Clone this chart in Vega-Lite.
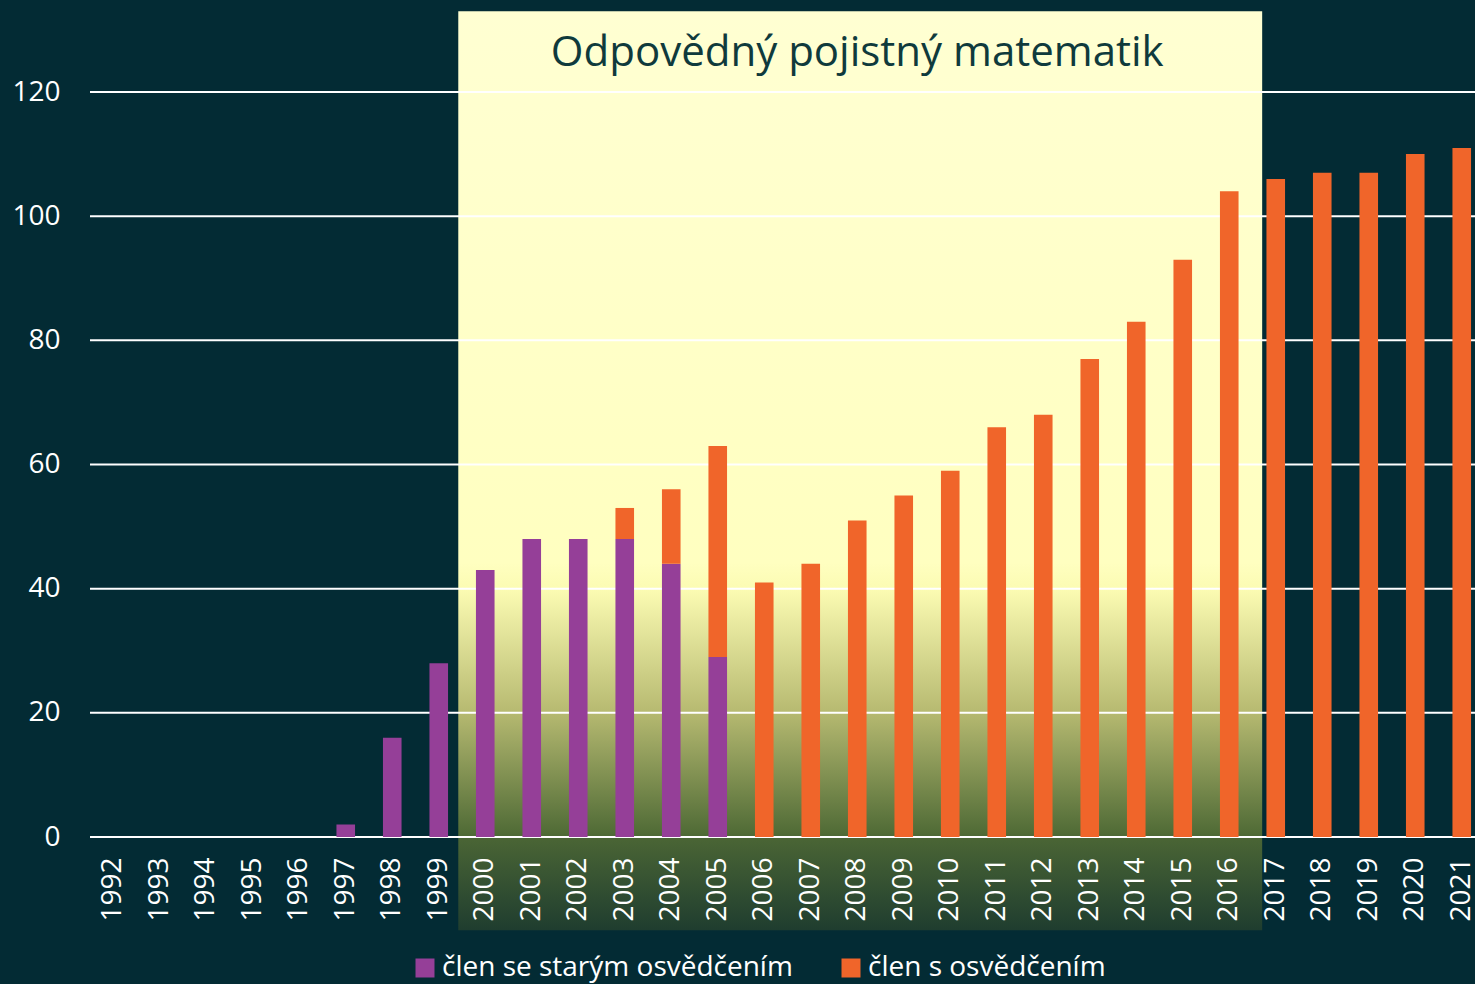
{
  "$schema": "https://vega.github.io/schema/vega-lite/v6.json",
  "width": 1395,
  "height": 745,
  "autosize": {"type": "none"},
  "padding": {"left": 90, "top": 92, "right": 0, "bottom": 147},
  "background": "#032b34",
  "config": {
    "view": {"stroke": null},
    "font": "Open Sans",
    "axis": {"labelFont": "Open Sans"},
    "legend": {"labelFont": "Open Sans"}
  },
  "datasets": {
    "bars": [
      {"year": 1997, "series": "člen se starým osvědčením", "k": 1, "value": 2},
      {"year": 1998, "series": "člen se starým osvědčením", "k": 1, "value": 16},
      {"year": 1999, "series": "člen se starým osvědčením", "k": 1, "value": 28},
      {"year": 2000, "series": "člen se starým osvědčením", "k": 1, "value": 43},
      {"year": 2001, "series": "člen se starým osvědčením", "k": 1, "value": 48},
      {"year": 2002, "series": "člen se starým osvědčením", "k": 1, "value": 48},
      {"year": 2003, "series": "člen se starým osvědčením", "k": 1, "value": 48},
      {"year": 2004, "series": "člen se starým osvědčením", "k": 1, "value": 44},
      {"year": 2005, "series": "člen se starým osvědčením", "k": 1, "value": 29},
      {"year": 1992, "series": "člen s osvědčením", "k": 2, "value": 0},
      {"year": 1993, "series": "člen s osvědčením", "k": 2, "value": 0},
      {"year": 1994, "series": "člen s osvědčením", "k": 2, "value": 0},
      {"year": 1995, "series": "člen s osvědčením", "k": 2, "value": 0},
      {"year": 1996, "series": "člen s osvědčením", "k": 2, "value": 0},
      {"year": 2003, "series": "člen s osvědčením", "k": 2, "value": 5},
      {"year": 2004, "series": "člen s osvědčením", "k": 2, "value": 12},
      {"year": 2005, "series": "člen s osvědčením", "k": 2, "value": 34},
      {"year": 2006, "series": "člen s osvědčením", "k": 2, "value": 41},
      {"year": 2007, "series": "člen s osvědčením", "k": 2, "value": 44},
      {"year": 2008, "series": "člen s osvědčením", "k": 2, "value": 51},
      {"year": 2009, "series": "člen s osvědčením", "k": 2, "value": 55},
      {"year": 2010, "series": "člen s osvědčením", "k": 2, "value": 59},
      {"year": 2011, "series": "člen s osvědčením", "k": 2, "value": 66},
      {"year": 2012, "series": "člen s osvědčením", "k": 2, "value": 68},
      {"year": 2013, "series": "člen s osvědčením", "k": 2, "value": 77},
      {"year": 2014, "series": "člen s osvědčením", "k": 2, "value": 83},
      {"year": 2015, "series": "člen s osvědčením", "k": 2, "value": 93},
      {"year": 2016, "series": "člen s osvědčením", "k": 2, "value": 104},
      {"year": 2017, "series": "člen s osvědčením", "k": 2, "value": 106},
      {"year": 2018, "series": "člen s osvědčením", "k": 2, "value": 107},
      {"year": 2019, "series": "člen s osvědčením", "k": 2, "value": 107},
      {"year": 2020, "series": "člen s osvědčením", "k": 2, "value": 110},
      {"year": 2021, "series": "člen s osvědčením", "k": 2, "value": 111}
    ],
    "grid": [{"v": 0}, {"v": 20}, {"v": 40}, {"v": 60}, {"v": 80}, {"v": 100}, {"v": 120}]
  },
  "data": {"name": "bars"},
  "layer": [
    {
      "data": {"values": [{}]},
      "mark": {
        "type": "rect",
        "fill": {
          "x1": 0, "y1": 0, "x2": 0, "y2": 1,
          "gradient": "linear",
          "stops": [
            {"offset": 0, "color": "#ffffd2"},
            {"offset": 0.6, "color": "#ffffc0"},
            {"offset": 0.63, "color": "#fbfbb2"},
            {"offset": 0.76, "color": "#b8bb72"},
            {"offset": 0.895, "color": "#506b36"},
            {"offset": 0.9, "color": "#4a6535"},
            {"offset": 1, "color": "#1f3d2f"}
          ]
        }
      },
      "encoding": {
        "x": {"datum": 1999, "type": "ordinal", "bandPosition": 1.55},
        "x2": {"datum": 2016, "bandPosition": 2.27},
        "y": {"datum": 133, "type": "quantitative"},
        "y2": {"datum": -15}
      }
    },
    {
      "data": {"name": "grid"},
      "mark": {"type": "rule", "color": "#ffffff", "strokeWidth": 2},
      "encoding": {"y": {"field": "v", "type": "quantitative"}}
    },
    {
      "mark": {"type": "bar"},
      "encoding": {
        "x": {
          "field": "year", "type": "ordinal",
          "scale": {"domain": [1992,1993,1994,1995,1996,1997,1998,1999,2000,2001,2002,2003,2004,2005,2006,2007,2008,2009,2010,2011,2012,2013,2014,2015,2016,2017,2018,2019,2020,2021], "paddingInner": 0.6, "paddingOuter": 0.3},
          "axis": {"title": null, "labelAngle": 270, "labelFontSize": 28, "labelColor": "#ffffff", "labelPadding": 20, "domain": false, "ticks": false}
        },
        "y": {
          "field": "value", "type": "quantitative", "stack": "zero",
          "scale": {"domain": [0, 120], "nice": false, "zero": true},
          "axis": {"title": null, "values": [0,20,40,60,80,100,120], "labelFontSize": 28, "labelColor": "#ffffff", "labelPadding": 30, "domain": false, "ticks": false, "grid": false}
        },
        "color": {
          "field": "series", "type": "nominal",
          "scale": {"domain": ["člen se starým osvědčením", "člen s osvědčením"], "range": ["#953f98", "#f0652a"]},
          "legend": {"title": null, "orient": "none", "legendX": 321, "legendY": 862, "direction": "horizontal", "symbolType": "square", "symbolSize": 361, "symbolStrokeWidth": 0, "labelFontSize": 28, "labelLimit": 800, "labelColor": "#ffffff", "columnPadding": 44, "labelOffset": 3}
        },
        "order": {"field": "k", "type": "quantitative"}
      }
    },
    {
      "data": {"values": [{"t": "Odpovědný pojistný matematik"}]},
      "mark": {"type": "text", "fontSize": 42, "color": "#0f3a3c", "baseline": "alphabetic", "align": "center"},
      "encoding": {
        "x": {"datum": 2008, "type": "ordinal"},
        "y": {"datum": 124.2, "type": "quantitative"},
        "text": {"field": "t"}
      }
    }
  ]
}
